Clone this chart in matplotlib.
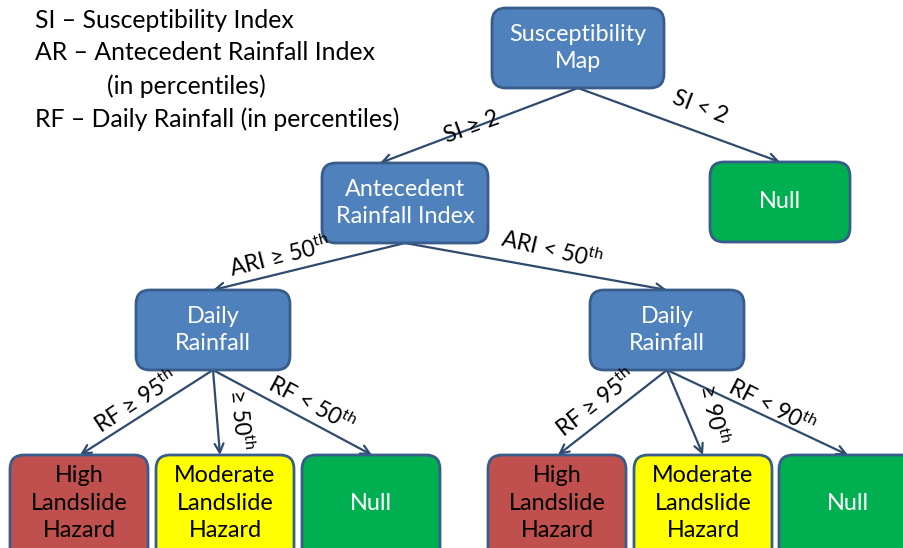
import matplotlib
matplotlib.use("Agg")
import matplotlib.pyplot as plt
from matplotlib.patches import FancyBboxPatch, FancyArrowPatch

plt.rcParams['font.family'] = ['Lato', 'DejaVu Sans']
plt.rcParams['mathtext.fontset'] = 'custom'
plt.rcParams['mathtext.rm'] = 'Lato'
plt.rcParams['mathtext.it'] = 'Lato'
plt.rcParams['mathtext.default'] = 'regular'

# ---- content ----
legend_lines = ["SI \u2013 Susceptibility Index",
                "AR \u2013 Antecedent Rainfall Index",
                "(in percentiles)",
                "RF \u2013 Daily Rainfall (in percentiles)"]

node_ids = ["sus", "null1", "ari", "drl", "drr", "hl", "ml", "nl", "hr", "mr", "nr"]
node_labels = ["Susceptibility\nMap", "Null", "Antecedent\nRainfall Index",
               "Daily\nRainfall", "Daily\nRainfall",
               "High\nLandslide\nHazard", "Moderate\nLandslide\nHazard", "Null",
               "High\nLandslide\nHazard", "Moderate\nLandslide\nHazard", "Null"]
node_kinds = ["blue", "green", "blue", "blue", "blue",
              "red", "yellow", "green", "red", "yellow", "green"]

edge_src = ["sus", "sus", "ari", "ari", "drl", "drl", "drl", "drr", "drr", "drr"]
edge_dst = ["ari", "null1", "drl", "drr", "hl", "ml", "nl", "hr", "mr", "nr"]
edge_labels = ["SI \u2265 2", "SI < 2",
               "ARI \u2265 50$^{th}$", "ARI < 50$^{th}$",
               "RF \u2265 95$^{th}$", "\u2265 50$^{th}$", "RF < 50$^{th}$",
               "RF \u2265 95$^{th}$", "\u2265 90$^{th}$", "RF < 90$^{th}$"]

# ---- layout (pixel space, y down) ----
boxes = {  # x0, y0, x1, y1
    "sus": (492, 8, 664, 88),
    "null1": (710, 162, 850, 242),
    "ari": (322, 163, 488, 243),
    "drl": (136, 290, 290, 370),
    "drr": (590, 290, 744, 370),
    "hl": (10, 455, 148, 565),
    "ml": (156, 455, 294, 565),
    "nl": (302, 455, 440, 565),
    "hr": (488, 455, 626, 565),
    "mr": (634, 455, 772, 565),
    "nr": (779, 455, 917, 565),
}
text_y = {"hl": 503, "ml": 503, "nl": 503, "hr": 503, "mr": 503, "nr": 503}
edge_end_x = {"ari": 380, "null1": 780, "drl": 213, "drr": 667,
              "hl": 80, "ml": 220, "nl": 372, "hr": 558, "mr": 703, "nr": 848}
label_pos = [(472, 127, 20), (700, 107, -21), (280, 257, 14), (552, 250, -13),
             (136, 402, 33), (240, 420, -84), (312, 404, -28),
             (596, 403, 38), (713, 414, -78), (772, 406, -27)]

styles = {
    "blue": dict(fc="#4F81BD", ec="#385D8A", tc="white"),
    "green": dict(fc="#00B050", ec="#385D8A", tc="white"),
    "red": dict(fc="#C0504D", ec="#385D8A", tc="black"),
    "yellow": dict(fc="#FFFF00", ec="#385D8A", tc="black"),
}
arrow_color = "#2E4A6E"

fig = plt.figure(figsize=(9.04, 5.48), dpi=100)
ax = fig.add_axes([0, 0, 1, 1])
ax.set_xlim(0, 904)
ax.set_ylim(548, 0)
ax.axis("off")

# legend text
leg_xy = [(35, 20), (35, 53), (107, 86), (35, 119)]
for (x, y), t in zip(leg_xy, legend_lines):
    ax.text(x, y, t, fontsize=17.8, va="center", ha="left", color="black")

# boxes
for nid, lab, kind in zip(node_ids, node_labels, node_kinds):
    x0, y0, x1, y1 = boxes[nid]
    st = styles[kind]
    p = FancyBboxPatch((x0, y0), x1 - x0, y1 - y0,
                       boxstyle="round,pad=0,rounding_size=14",
                       fc=st["fc"], ec=st["ec"], lw=2, zorder=2)
    ax.add_patch(p)
    cy = text_y.get(nid, (y0 + y1) / 2)
    ax.text((x0 + x1) / 2, cy, lab, ha="center", va="center",
            fontsize=16.8, color=st["tc"], linespacing=1.4, zorder=3)

# edges
for (s, d, lab, (lx, ly, rot)) in zip(edge_src, edge_dst, edge_labels, label_pos):
    sx0, sy0, sx1, sy1 = boxes[s]
    start = ((sx0 + sx1) / 2, sy1)
    end = (edge_end_x[d], boxes[d][1])
    a = FancyArrowPatch(start, end, arrowstyle="->", mutation_scale=16,
                        color=arrow_color, lw=1.6, shrinkA=0, shrinkB=0, zorder=1)
    ax.add_patch(a)
    ax.text(lx, ly, lab, rotation=rot, rotation_mode="anchor",
            ha="center", va="center", fontsize=16.5, color="black")

fig.savefig("out.png", dpi=100)
